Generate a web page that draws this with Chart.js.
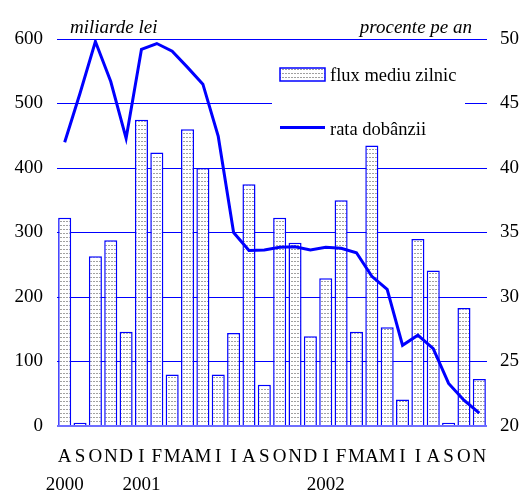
<!DOCTYPE html>
<html>
<head>
<meta charset="utf-8">
<script src="https://cdn.jsdelivr.net/npm/chart.js@4/dist/chart.umd.min.js"></script>
<style>
html,body{margin:0;padding:0;background:#fff;}
canvas{display:block;}
</style>
</head>
<body>
<canvas id="c" width="525" height="491"></canvas>
<script>
const months = ['A','S','O','N','D','I','F','M','A','M','I','I','A','S','O','N','D','I','F','M','A','M','I','I','A','S','O','N'];
const years = ['2000','','','','','2001','','','','','','','','','','','','2002','','','','','','','','','',''];
const fluxMediuZilnic = [323,5,263,288,146,475,424,80,460,400,80,144,375,64,323,284,139,229,350,146,435,153,41,290,241,5,183,73];
const rataDobanzii = [42.0,45.8,49.8,46.7,42.3,49.2,49.65,49.05,47.8,46.5,42.45,35.0,33.6,33.65,33.85,33.9,33.65,33.85,33.78,33.43,31.6,30.6,26.26,27.04,26.0,23.3,22.0,21.0];
const leftTicks = [0,100,200,300,400,500,600];
const rightTicks = [20,25,30,35,40,45,50];
const seriesNames = ['flux mediu zilnic','rata dobânzii'];
const axisTitles = ['miliarde lei','procente pe an'];

const BLUE = 'rgb(0,0,255)';
const FONT = '"Liberation Serif", "Times New Roman", serif';

function makePattern(){
  const c = document.createElement('canvas');
  c.width = 3; c.height = 4;
  const x = c.getContext('2d');
  x.fillStyle = '#ffffff'; x.fillRect(0,0,3,4);
  x.fillStyle = '#a0a0a0'; x.fillRect(0,1,2,1);
  return x.createPattern(c,'repeat');
}
const pattern = makePattern();

const labels = months.map((m,i)=>[m, years[i]]);

const overlay = {
  id:'overlay',
  afterDraw(chart){
    const ctx = chart.ctx;
    ctx.save();
    ctx.fillStyle = '#000';
    ctx.font = 'italic 19px ' + FONT;
    ctx.textBaseline = 'alphabetic';
    ctx.textAlign = 'left';
    ctx.fillText(axisTitles[0], 70, 33);
    ctx.textAlign = 'right';
    ctx.fillText(axisTitles[1], 472, 33);
    // legend box
    ctx.fillStyle = '#fff';
    ctx.fillRect(272, 56, 193, 84);
    ctx.fillStyle = pattern;
    ctx.fillRect(280, 68, 45, 13);
    ctx.strokeStyle = BLUE; ctx.lineWidth = 1.5;
    ctx.strokeRect(280, 68, 45, 13);
    ctx.beginPath(); ctx.lineWidth = 3;
    ctx.moveTo(280, 127.5); ctx.lineTo(325, 127.5); ctx.stroke();
    ctx.fillStyle = '#000';
    ctx.font = '18.5px ' + FONT;
    ctx.textAlign = 'left';
    ctx.fillText(seriesNames[0], 330, 81);
    ctx.fillText(seriesNames[1], 330, 135);
    ctx.restore();
  }
};

new Chart(document.getElementById('c'), {
  data:{
    labels: labels,
    datasets:[
      {type:'line', label:seriesNames[1], data:rataDobanzii, yAxisID:'y1', borderColor:BLUE, borderWidth:3, pointRadius:0, tension:0, order:0, fill:false},
      {type:'bar', label:seriesNames[0], data:fluxMediuZilnic, yAxisID:'y', backgroundColor:pattern, borderColor:BLUE, borderWidth:1.5, barPercentage:0.85, categoryPercentage:1.0, order:1}
    ]
  },
  options:{
    responsive:false,
    animation:false,
    layout:{padding:{top:39,left:0,right:0,bottom:0}},
    plugins:{legend:{display:false}, tooltip:{enabled:false}},
    scales:{
      x:{
        offset:true,
        grid:{display:false, drawTicks:false},
        border:{display:false},
        ticks:{color:'#000', font:{family:FONT, size:19, lineHeight:1.47}, padding:17, maxRotation:0, autoSkip:false},
        afterFit(s){ s.height = 65; }
      },
      y:{
        position:'left', min:0, max:600,
        afterBuildTicks(s){ s.ticks = leftTicks.map(v=>({value:v})); },
        grid:{
          color:(c)=> (c.tick && c.tick.value===0) ? 'rgb(110,110,255)' : BLUE,
          lineWidth:(c)=> (c.tick && c.tick.value===0) ? 2 : 1,
          drawTicks:false
        },
        border:{display:false},
        ticks:{color:'#000', font:{family:FONT, size:19}, padding:14},
        afterFit(s){ s.width = 57; }
      },
      y1:{
        position:'right', min:20, max:50,
        afterBuildTicks(s){ s.ticks = rightTicks.map(v=>({value:v})); },
        grid:{display:false, drawTicks:false},
        border:{display:false},
        ticks:{color:'#000', font:{family:FONT, size:19}, padding:13},
        afterFit(s){ s.width = 38; }
      }
    }
  },
  plugins:[overlay]
});
</script>
</body>
</html>
